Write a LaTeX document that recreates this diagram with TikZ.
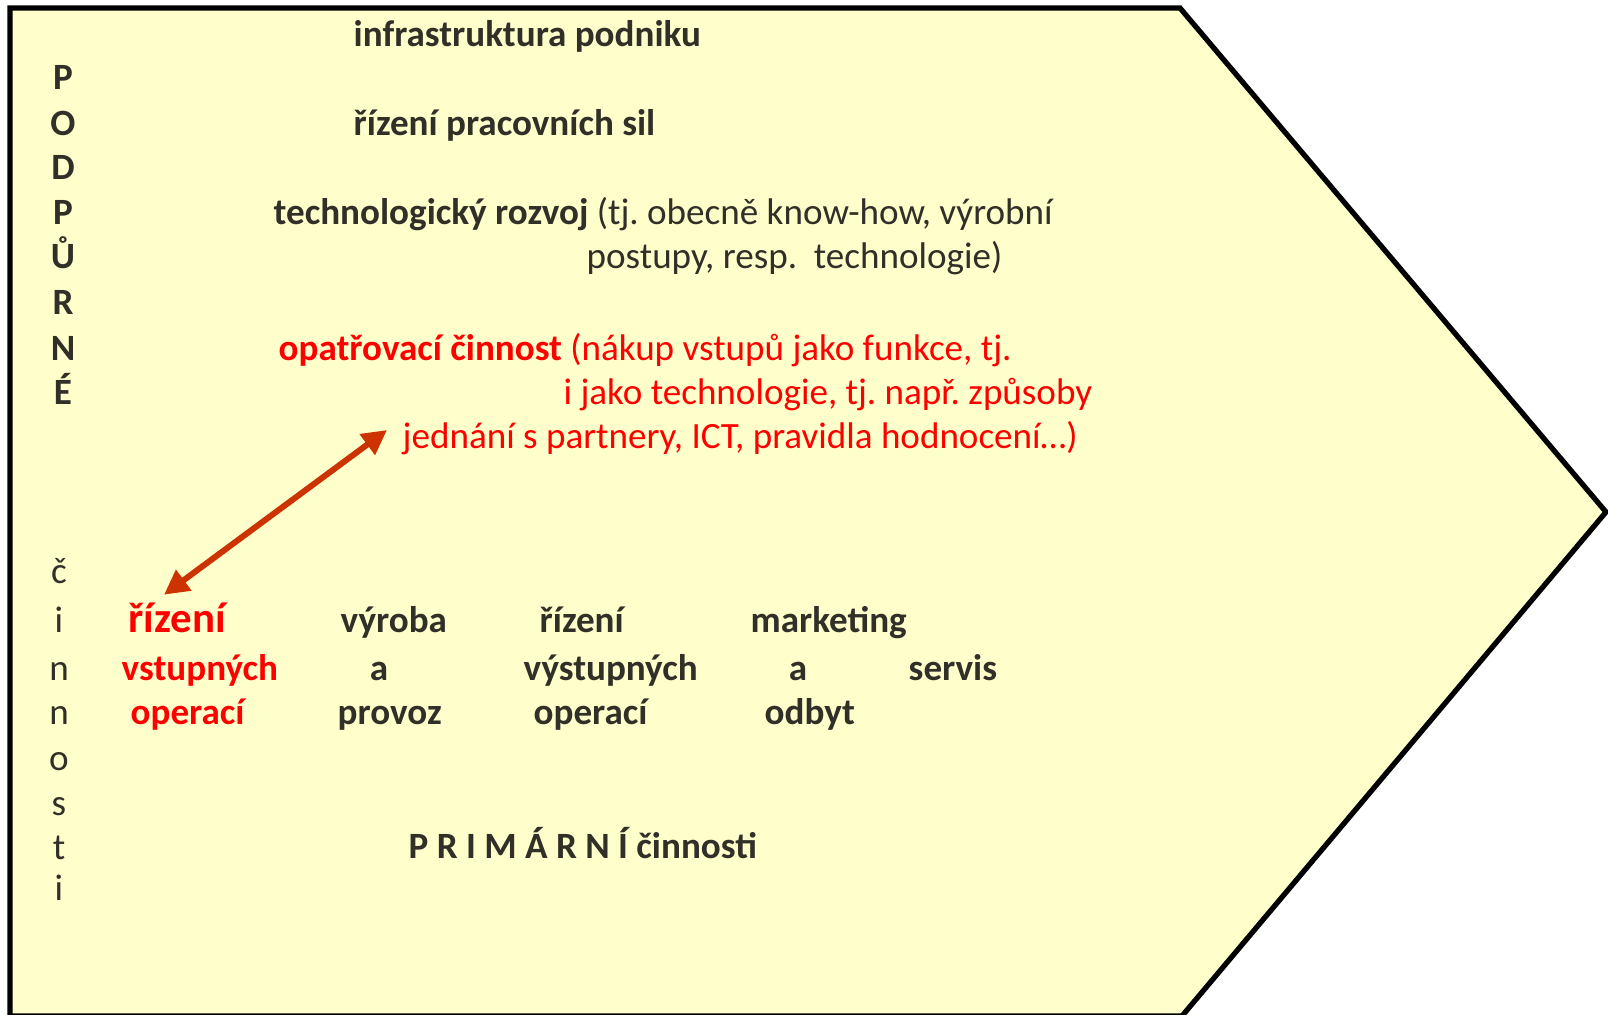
\documentclass[tikz,border=0pt]{standalone}
\usepackage{fontspec}
\setmainfont{Carlito}
\frenchspacing
\usetikzlibrary{backgrounds}
\usetikzlibrary{arrows.meta}
\definecolor{ink}{HTML}{302F28}
\definecolor{hot}{HTML}{FF0000}
\definecolor{rust}{HTML}{CC3300}
\definecolor{pale}{HTML}{FFFFCC}

\begin{document}
\begin{tikzpicture}[
    x=0.01cm, y=-0.01cm,
    show background rectangle,
    tight background=0,
    background rectangle/.style={fill=white},
    wd/.style={inner sep=0pt, anchor=west, text height=8.6pt, text depth=1.4pt,
        font=\fontsize{10.55}{12.5}\selectfont, text=ink},
    bwd/.style={wd, font=\fontsize{10.55}{12.5}\selectfont\bfseries},
    rwd/.style={wd, text=hot},
    rbwd/.style={bwd, text=hot},
    sideb/.style={bwd, anchor=center},
    sidec/.style={wd, anchor=center},
 ]
    \useasboundingbox (0,0) rectangle (1608,1014);
    \draw[line width=1.5pt, fill=pale] (10,1016) -- (10,8) -- (1180,8)
        -- (1606,512) -- (1182,1016) -- cycle;

    % podpurne cinnosti
    \node[bwd] at (353,34) (T1) {infrastruktura podniku};
    \node[bwd] at (353,123) (T2) {řízení pracovních sil};
    \node[wd] at (273,212) (T3) {\textbf{technologický rozvoj} (tj. obecně know-how, výrobní};
    \node[wd] at (586,256) (T4) {postupy, resp.~ technologie)};
    \node[rwd] at (278,348) (O1) {\textbf{opatřovací činnost} (nákup vstupů jako funkce, tj.};
    \node[rwd] at (563,392) (O2) {i jako technologie, tj. např. způsoby};
    \node[rwd] at (402,436) (O3) {jednání s partnery, ICT, pravidla hodnocení…)};

    \node[sideb] at (63,77) (S1) {P};
    \node[sideb] at (63,123) (S2) {O};
    \node[sideb] at (63,167) (S3) {D};
    \node[sideb] at (63,212) (S4) {P};
    \node[sideb] at (63,256) (S5) {Ů};
    \node[sideb] at (63,302) (S6) {R};
    \node[sideb] at (63,348) (S7) {N};
    \node[sideb] at (63,392) (S8) {É};

    \node[sidec] at (59,571) (C1) {č};
    \node[sidec] at (59,620) (C2) {i};
    \node[sidec] at (59,668) (C3) {n};
    \node[sidec] at (59,712) (C4) {n};
    \node[sidec] at (59,758) (C5) {o};
    \node[sidec] at (59,803) (C6) {s};
    \node[sidec] at (59,847) (C7) {t};
    \node[sidec] at (59,888) (C8) {i};

    % primarni cinnosti
    \node[rbwd, font=\fontsize{12.2}{14}\selectfont\bfseries] at (128,620) (R1) {řízení};
    \node[rbwd] at (121,668) (R2) {vstupných};
    \node[rbwd] at (130,712) (R3) {operací};
    \node[bwd] at (340,620) (V1) {výroba};
    \node[sideb] at (379,668) (V2) {a};
    \node[bwd] at (337,712) (V3) {provoz};
    \node[bwd] at (539,620) (W1) {řízení};
    \node[bwd] at (523,668) (W2) {výstupných};
    \node[bwd] at (533,712) (W3) {operací};
    \node[bwd] at (750,620) (M1) {marketing};
    \node[sideb] at (798,668) (M2) {a};
    \node[bwd] at (764,712) (M3) {odbyt};
    \node[bwd] at (908,668) (Z1) {servis};
    \node[bwd] at (408,846) (PR) {P R I M Á R N Í činnosti};

    \draw[rust, line width=1.7pt,
        {Triangle[length=7pt,width=7pt]}-{Triangle[length=7pt,width=7pt]}]
        ([shift={(36,-7)}]R1.north west) -- ([shift={(-15,-6)}]O3.west);
\end{tikzpicture}
\end{document}
